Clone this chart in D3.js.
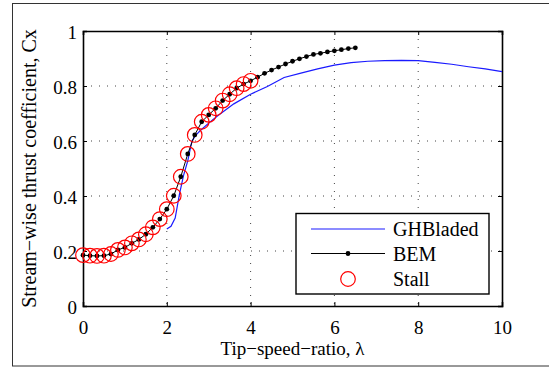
<!DOCTYPE html>
<html>
<head>
<meta charset="utf-8">
<script src="https://cdn.jsdelivr.net/npm/d3@7"></script>
<style>
  body { margin: 0; background: #fff; }
  svg text { font-family: "Liberation Serif", "DejaVu Serif", serif; fill: #000; }
</style>
</head>
<body>
<div id="chart"></div>
<script>
// BEM samples, tip speed ratio step 1/6 from 0 to 6.5
const bemX = d3.range(40).map(i => i / 6);
const bemY = [0.185, 0.183, 0.182, 0.183, 0.189, 0.204, 0.213, 0.228, 0.242, 0.261,
  0.286, 0.316, 0.352, 0.401, 0.470, 0.553, 0.622, 0.670, 0.695, 0.719,
  0.747, 0.770, 0.792, 0.807, 0.819, 0.832, 0.846, 0.858, 0.869, 0.880,
  0.890, 0.899, 0.907, 0.915, 0.919, 0.924, 0.928, 0.932, 0.936, 0.939];
// stall markers sit on the first 25 BEM points (lambda 0..4)
const stallCount = 25;

const ghX = [2.0, 2.1, 2.2, 2.3, 2.4, 2.5, 2.6, 2.7, 2.8, 3.0, 3.2, 3.6, 4.0, 4.4, 4.8,
  5.2, 5.6, 6.0, 6.4, 6.8, 7.2, 7.6, 8.0, 8.4, 8.8, 9.2, 9.6, 10.0];
const ghY = [0.280, 0.290, 0.320, 0.405, 0.475, 0.528, 0.600, 0.622, 0.638, 0.665, 0.690,
  0.735, 0.770, 0.798, 0.831, 0.847, 0.862, 0.876, 0.885, 0.890, 0.892, 0.893,
  0.892, 0.886, 0.879, 0.870, 0.862, 0.852];

const xTicks = [0, 2, 4, 6, 8, 10];
const yTicks = [0, 0.2, 0.4, 0.6, 0.8, 1];
const legendLabels = ['GHBladed', 'BEM', 'Stall'];

const width = 549, height = 367;
const svg = d3.select('#chart').append('svg')
  .attr('width', width)
  .attr('height', height);

// outer figure border
svg.append('rect')
  .attr('x', 12.5).attr('y', 3.5)
  .attr('width', 600).attr('height', 362.5)
  .attr('fill', 'none').attr('stroke', '#333').attr('stroke-width', 1);

const x = d3.scaleLinear().domain([0, 10]).range([83, 502]);
const y = d3.scaleLinear().domain([0, 1]).range([306, 31]);

// dotted grid
const grid = svg.append('g')
  .attr('stroke', '#444').attr('stroke-width', 1).attr('stroke-dasharray', '1,7');
grid.selectAll('line.gx').data(xTicks.slice(1, -1)).join('line')
  .attr('x1', d => x(d)).attr('x2', d => x(d))
  .attr('y1', y(1)).attr('y2', y(0));
grid.selectAll('line.gy').data(yTicks.slice(1, -1)).join('line')
  .attr('x1', x(0)).attr('x2', x(10))
  .attr('y1', d => y(d)).attr('y2', d => y(d));

// axes (ticks pointing inward on all four sides)
const fmt = d => d3.format('~g')(d);
const axBottom = svg.append('g').attr('transform', `translate(0,${y(0)})`)
  .call(d3.axisBottom(x).tickValues(xTicks).tickFormat(fmt).tickSize(-4).tickPadding(10));
const axLeft = svg.append('g').attr('transform', `translate(${x(0)},0)`)
  .call(d3.axisLeft(y).tickValues(yTicks).tickFormat(fmt).tickSize(-4).tickPadding(6));
const axTop = svg.append('g').attr('transform', `translate(0,${y(1)})`)
  .call(d3.axisTop(x).tickValues(xTicks).tickFormat('').tickSize(-4));
const axRight = svg.append('g').attr('transform', `translate(${x(10)},0)`)
  .call(d3.axisRight(y).tickValues(yTicks).tickFormat('').tickSize(-4));

[axBottom, axLeft, axTop, axRight].forEach(g => {
  g.select('.domain').attr('stroke', '#000').attr('stroke-width', 1.6);
  g.selectAll('.tick line').attr('stroke', '#000').attr('stroke-width', 1);
  g.selectAll('.tick text').style('font-size', '19px')
    .style('font-family', '"Liberation Serif", serif').attr('fill', '#000');
});
axBottom.selectAll('.tick text').attr('dy', '0.95em');
axLeft.selectAll('.tick text').attr('dy', '0.4em');

// GHBladed line
const ghData = ghX.map((v, i) => ({x: v, y: ghY[i]}));
svg.append('path').datum(ghData)
  .attr('fill', 'none').attr('stroke', '#1a1aff').attr('stroke-width', 1.2)
  .attr('d', d3.line().x(d => x(d.x)).y(d => y(d.y)));

// BEM line with dots
const bemData = bemX.map((v, i) => ({x: v, y: bemY[i]}));
svg.append('path').datum(bemData)
  .attr('fill', 'none').attr('stroke', '#000').attr('stroke-width', 1)
  .attr('d', d3.line().x(d => x(d.x)).y(d => y(d.y)));
svg.append('g').selectAll('circle').data(bemData).join('circle')
  .attr('cx', d => x(d.x)).attr('cy', d => y(d.y)).attr('r', 2.4).attr('fill', '#000');

// stall circles
svg.append('g').selectAll('circle').data(bemData.slice(0, stallCount)).join('circle')
  .attr('cx', d => x(d.x)).attr('cy', d => y(d.y)).attr('r', 7.3)
  .attr('fill', 'none').attr('stroke', '#ff0000').attr('stroke-width', 1.2);

// legend
const lg = svg.append('g');
lg.append('rect').attr('x', 296).attr('y', 213.5).attr('width', 193).attr('height', 80.5)
  .attr('fill', '#fff').attr('stroke', '#000').attr('stroke-width', 1.4);
const rows = [229, 253.5, 279];
lg.append('line').attr('x1', 311).attr('x2', 385).attr('y1', rows[0]).attr('y2', rows[0])
  .attr('stroke', '#1a1aff').attr('stroke-width', 1.2);
lg.append('line').attr('x1', 311).attr('x2', 385).attr('y1', rows[1]).attr('y2', rows[1])
  .attr('stroke', '#000').attr('stroke-width', 1);
lg.append('circle').attr('cx', 348).attr('cy', rows[1]).attr('r', 2.4).attr('fill', '#000');
lg.append('circle').attr('cx', 348).attr('cy', rows[2]).attr('r', 7.3)
  .attr('fill', 'none').attr('stroke', '#ff0000').attr('stroke-width', 1.2);
lg.selectAll('text').data(legendLabels).join('text')
  .attr('x', 393).attr('y', (d, i) => rows[i] + 7)
  .style('font-size', '20px').text(d => d);

// axis labels
svg.append('text').attr('x', x(5)).attr('y', 355)
  .attr('text-anchor', 'middle').style('font-size', '19px')
  .text('Tip\u2212speed\u2212ratio, \u03bb');
svg.append('text')
  .attr('transform', `translate(36,${(y(0) + y(1)) / 2}) rotate(-90)`)
  .attr('text-anchor', 'middle').style('font-size', '20px')
  .text('Stream\u2212wise thrust coefficient, Cx');
</script>
</body>
</html>
